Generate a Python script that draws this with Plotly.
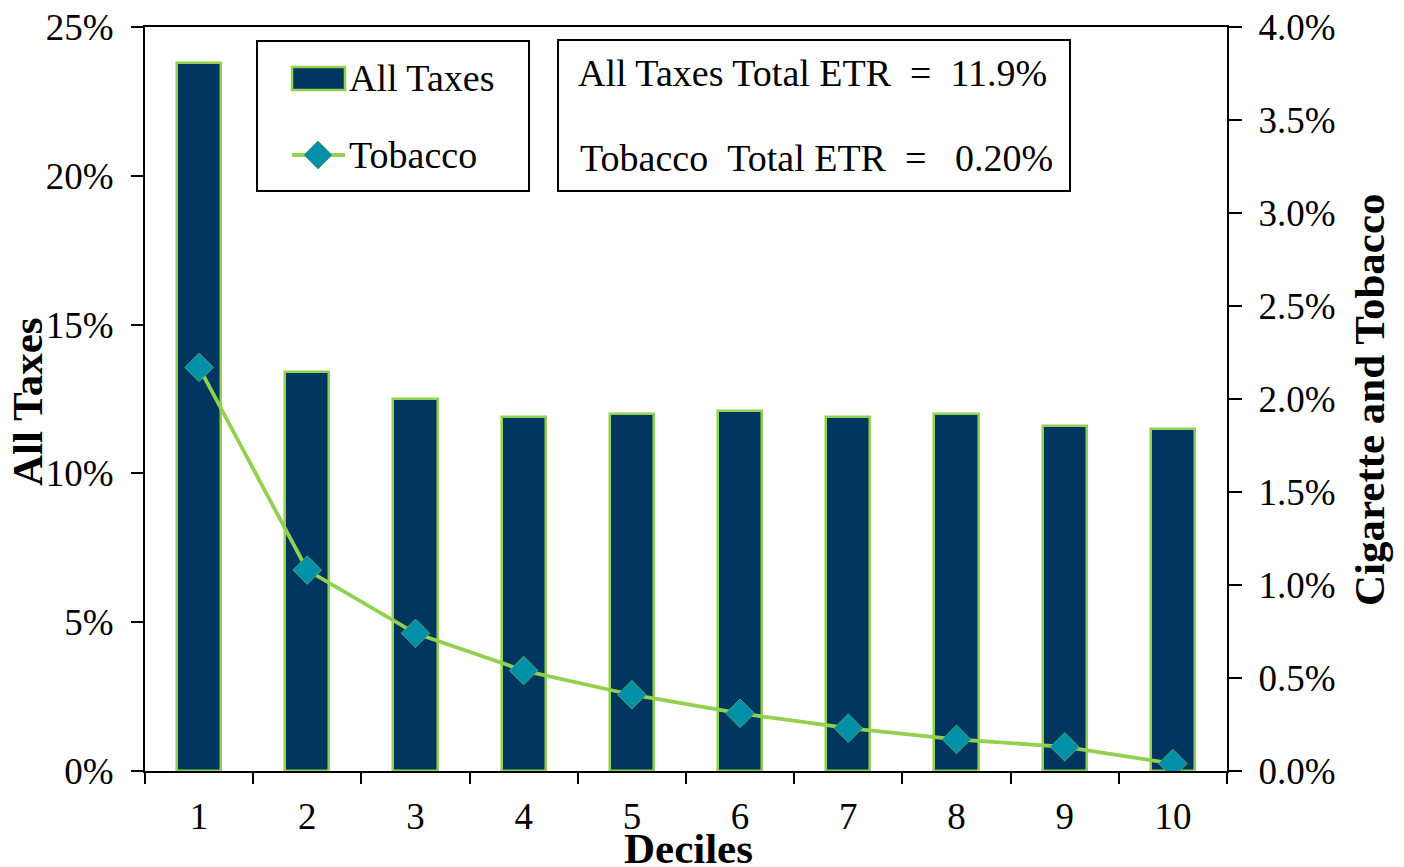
import plotly.graph_objects as go

# data
deciles = ["1", "2", "3", "4", "5", "6", "7", "8", "9", "10"]
all_taxes = [23.8, 13.4, 12.5, 11.9, 12.0, 12.1, 11.9, 12.0, 11.6, 11.5]
tobacco = [2.17, 1.08, 0.74, 0.54, 0.41, 0.31, 0.23, 0.17, 0.13, 0.04]
left_ticks = [0, 5, 10, 15, 20, 25]
right_ticks = [0.0, 0.5, 1.0, 1.5, 2.0, 2.5, 3.0, 3.5, 4.0]
total_etr_all = "11.9%"
total_etr_tobacco = "0.20%"

NAVY = "#003660"
GREEN = "#92D050"
TEAL = "#0090A8"
FONT = "Liberation Serif"

W, H = 1404, 867
L, R, T, B = 145, 1227, 27, 771  # plot area in page pixels
OFF = 8  # default body margin of the html page


def px_x(px):
    return (px - L) / (R - L)


def px_y(py):
    return (B - py) / (B - T)


fig = go.Figure()

fig.add_trace(
    go.Bar(
        x=deciles,
        y=all_taxes,
        name="All Taxes",
        width=0.41,
        marker=dict(color=NAVY, line=dict(color=GREEN, width=2.5)),
        showlegend=False,
    )
)

fig.add_trace(
    go.Scatter(
        x=deciles,
        y=tobacco,
        name="Tobacco",
        yaxis="y2",
        mode="lines+markers",
        line=dict(color=GREEN, width=3.8),
        marker=dict(
            symbol="diamond",
            size=22,
            color=TEAL,
            line=dict(color="#4FA66A", width=1),
        ),
        showlegend=False,
    )
)

shapes = []
annotations = []
text_font = dict(family=FONT, size=38, color="black")

# legend box drawn by hand so the swatches match the original
shapes.append(
    dict(
        type="rect", xref="paper", yref="paper",
        x0=px_x(257), x1=px_x(529), y0=px_y(191), y1=px_y(41),
        line=dict(color="black", width=2), fillcolor="white", layer="above",
    )
)
shapes.append(
    dict(
        type="rect", xref="paper", yref="paper",
        x0=px_x(292), x1=px_x(345), y0=px_y(90), y1=px_y(67),
        line=dict(color=GREEN, width=2.5), fillcolor=NAVY, layer="above",
    )
)
shapes.append(
    dict(
        type="line", xref="paper", yref="paper",
        x0=px_x(292), x1=px_x(345), y0=px_y(155), y1=px_y(155),
        line=dict(color=GREEN, width=3.8), layer="above",
    )
)
cx, cy, d = 318, 155, 14
diamond = "M {} {} L {} {} L {} {} L {} {} Z".format(
    px_x(cx), px_y(cy - d), px_x(cx + d), px_y(cy),
    px_x(cx), px_y(cy + d), px_x(cx - d), px_y(cy),
)
shapes.append(
    dict(
        type="path", xref="paper", yref="paper", path=diamond,
        fillcolor=TEAL, line=dict(color="#4FA66A", width=1), layer="above",
    )
)
for label, py in [("All Taxes", 78), ("Tobacco", 155)]:
    annotations.append(
        dict(
            text=label, xref="paper", yref="paper",
            x=px_x(347), y=px_y(py), xanchor="left", yanchor="middle",
            showarrow=False, font=text_font,
        )
    )

# totals box
shapes.append(
    dict(
        type="rect", xref="paper", yref="paper",
        x0=px_x(558), x1=px_x(1070), y0=px_y(191), y1=px_y(40),
        line=dict(color="black", width=2), fillcolor="white", layer="above",
    )
)
nb = "\u00a0"
annotations.append(
    dict(
        text=f"All Taxes Total ETR{nb*2}={nb*2}{total_etr_all}",
        xref="paper", yref="paper", x=px_x(576), y=px_y(73),
        xanchor="left", yanchor="middle", showarrow=False, font=text_font,
    )
)
annotations.append(
    dict(
        text=f"Tobacco{nb*2}Total ETR{nb*2}={nb*3}{total_etr_tobacco}",
        xref="paper", yref="paper", x=px_x(578), y=px_y(158),
        xanchor="left", yanchor="middle", showarrow=False, font=text_font,
    )
)

# axis titles
title_font = dict(family=FONT, size=43, color="black")
annotations.append(
    dict(
        text="<b>All Taxes</b>", xref="paper", yref="paper",
        x=px_x(27), y=px_y(402), textangle=-90, showarrow=False,
        xanchor="center", yanchor="middle", font=title_font,
    )
)
annotations.append(
    dict(
        text="<b>Cigarette and Tobacco</b>", xref="paper", yref="paper",
        x=px_x(1369), y=px_y(400), textangle=-90, showarrow=False,
        xanchor="center", yanchor="middle", font=title_font,
    )
)
annotations.append(
    dict(
        text="<b>Deciles</b>", xref="paper", yref="paper",
        x=px_x(688), y=px_y(849), showarrow=False,
        xanchor="center", yanchor="middle", font=title_font,
    )
)

tick_font = dict(family=FONT, size=37, color="black")

fig.update_layout(
    width=W - OFF,
    height=H - OFF,
    autosize=False,
    margin=dict(l=L - OFF, r=W - R, t=T - OFF, b=H - B, autoexpand=False),
    plot_bgcolor="white",
    paper_bgcolor="white",
    bargap=0,
    showlegend=False,
    shapes=shapes,
    annotations=annotations,
    xaxis=dict(
        type="category",
        range=[-0.5, 9.5],
        tickson="boundaries",
        ticks="outside",
        ticklen=11,
        tickwidth=1.5,
        tickcolor="black",
        showline=True,
        linecolor="black",
        linewidth=2,
        mirror=True,
        showgrid=False,
        tickfont=tick_font,
        ticklabelstandoff=12,
        automargin=False,
    ),
    yaxis=dict(
        range=[0, 25],
        tickmode="array",
        tickvals=left_ticks,
        ticktext=[f"{v}%" for v in left_ticks],
        ticks="outside",
        ticklen=12,
        tickwidth=1.5,
        tickcolor="black",
        showline=True,
        linecolor="black",
        linewidth=2,
        showgrid=False,
        zeroline=False,
        tickfont=tick_font,
        ticklabelstandoff=10,
        ticklabeloverflow="allow",
        automargin=False,
    ),
    yaxis2=dict(
        range=[0, 4],
        tickmode="array",
        tickvals=right_ticks,
        ticktext=[f"{v:.1f}%" for v in right_ticks],
        overlaying="y",
        side="right",
        ticks="outside",
        ticklen=13,
        tickwidth=1.5,
        tickcolor="black",
        showline=True,
        linecolor="black",
        linewidth=2,
        showgrid=False,
        zeroline=False,
        tickfont=tick_font,
        ticklabelstandoff=9,
        ticklabeloverflow="allow",
        automargin=False,
    ),
)

fig.write_html("out.html")
